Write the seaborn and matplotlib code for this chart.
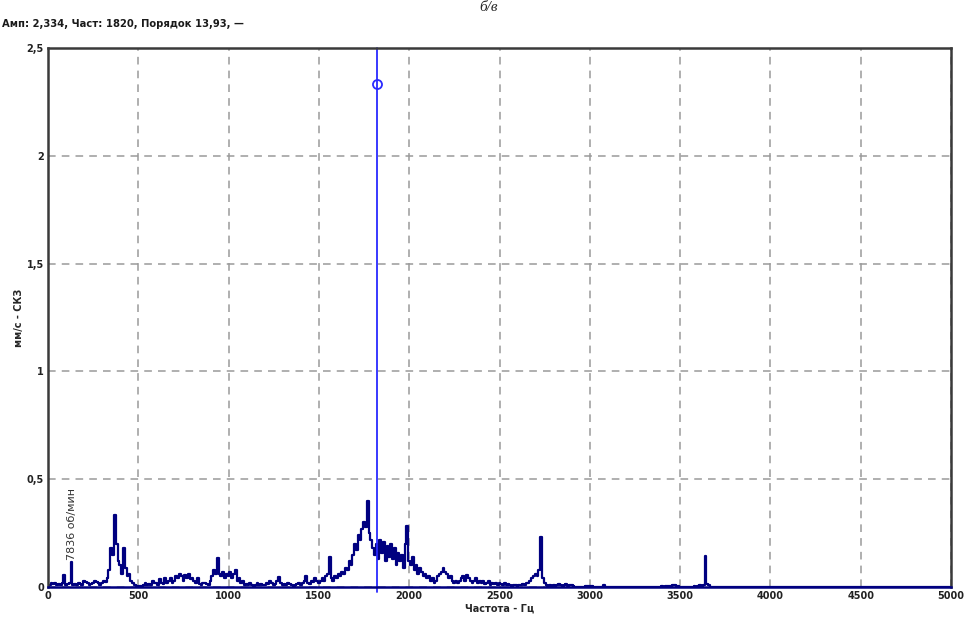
import numpy as np
import pandas as pd
import matplotlib
matplotlib.use("Agg")
import matplotlib.pyplot as plt
import seaborn as sns

# Спектр виброскорости, шаг 10 Гц (мм/с СКЗ)
amp_0_1000 = [
    0.0, 0.01, 0.02, 0.015, 0.02, 0.01, 0.015, 0.01, 0.02, 0.055,
    0.01, 0.015, 0.02, 0.117, 0.01, 0.015, 0.01, 0.02, 0.015, 0.01,
    0.03, 0.025, 0.02, 0.01, 0.015, 0.02, 0.03, 0.025, 0.02, 0.01,
    0.02, 0.03, 0.025, 0.04, 0.08, 0.18, 0.15, 0.334, 0.2, 0.12,
    0.1, 0.06, 0.18, 0.09, 0.05, 0.06, 0.03, 0.02, 0.01, 0.005,
    0.003, 0.005, 0.003, 0.008, 0.02, 0.01, 0.015, 0.01, 0.03, 0.02,
    0.02, 0.01, 0.035, 0.02, 0.015, 0.04, 0.02, 0.03, 0.04, 0.02,
    0.03, 0.05, 0.04, 0.06, 0.05, 0.03, 0.055, 0.04, 0.06, 0.035,
    0.04, 0.03, 0.02, 0.04, 0.015, 0.01, 0.02, 0.02, 0.015, 0.01,
    0.03, 0.05, 0.08, 0.06, 0.134, 0.06, 0.05, 0.07, 0.04, 0.06,
]
amp_1000_2000 = [
    0.05, 0.07, 0.04, 0.06, 0.08, 0.03, 0.04, 0.02, 0.03, 0.01,
    0.015, 0.01, 0.02, 0.01, 0.005, 0.01, 0.02, 0.01, 0.015, 0.01,
    0.01, 0.02, 0.015, 0.03, 0.02, 0.01, 0.015, 0.03, 0.045, 0.02,
    0.01, 0.015, 0.01, 0.02, 0.015, 0.01, 0.005, 0.01, 0.015, 0.02,
    0.01, 0.02, 0.03, 0.05, 0.02, 0.015, 0.03, 0.025, 0.04, 0.03,
    0.02, 0.03, 0.04, 0.03, 0.05, 0.06, 0.14, 0.04, 0.03, 0.05,
    0.04, 0.06, 0.05, 0.07, 0.06, 0.09, 0.08, 0.12, 0.1, 0.15,
    0.2, 0.17, 0.24, 0.22, 0.27, 0.3, 0.28, 0.40, 0.25, 0.22,
    0.18, 0.15, 0.2, 0.13, 0.22, 0.16, 0.21, 0.12, 0.19, 0.14,
    0.2, 0.13, 0.18, 0.1, 0.16, 0.12, 0.15, 0.09, 0.2, 0.283,
]
amp_2000_3000 = [
    0.12, 0.1, 0.14, 0.08, 0.1, 0.06, 0.09, 0.07, 0.05, 0.06,
    0.04, 0.05, 0.03, 0.04, 0.02, 0.03, 0.05, 0.06, 0.07, 0.088,
    0.07, 0.06, 0.04, 0.05, 0.03, 0.02, 0.03, 0.02, 0.03, 0.04,
    0.05, 0.03, 0.055, 0.04, 0.03, 0.02, 0.03, 0.04, 0.02, 0.03,
    0.02, 0.03, 0.015, 0.02, 0.03, 0.01, 0.02, 0.015, 0.02, 0.01,
    0.02, 0.015, 0.01, 0.02, 0.01, 0.015, 0.01, 0.005, 0.01, 0.01,
    0.005, 0.01, 0.01, 0.015, 0.01, 0.02, 0.02, 0.03, 0.04, 0.05,
    0.06, 0.05, 0.08, 0.233, 0.04, 0.02, 0.01, 0.005, 0.01, 0.005,
    0.01, 0.005, 0.01, 0.015, 0.01, 0.005, 0.01, 0.015, 0.005, 0.01,
    0.008, 0.003, 0.002, 0.001, 0.001, 0.001, 0.002, 0.001, 0.004, 0.006,
]
amp_3000_3700 = [
    0.005, 0.003, 0.001, 0.001, 0.002, 0.001, 0.001, 0.001, 0.008, 0.001,
    0.001, 0.0, 0.0, 0.0, 0.0, 0.0, 0.0, 0.0, 0.0, 0.0,
    0.0, 0.0, 0.0, 0.0, 0.0, 0.0, 0.0, 0.0, 0.0, 0.0,
    0.0, 0.0, 0.0, 0.0, 0.0, 0.0, 0.0, 0.0, 0.0, 0.0,
    0.006, 0.001, 0.006, 0.004, 0.005, 0.006, 0.007, 0.008, 0.006, 0.005,
    0.001, 0.0, 0.0, 0.0, 0.0, 0.0, 0.0, 0.0, 0.006, 0.002,
    0.005, 0.008, 0.006, 0.01, 0.144, 0.015, 0.008, 0.001, 0.0, 0.0,
]
amp_tail = [0.0]   # до 5000 Гц спектр на нуле
freq_tail = [5000]

cursor_freq = 1820
cursor_amp = 2.334
rpm_freq = 131
rpm_label = "7836 об/мин"
title = "Амп: 2,334, Част: 1820, Порядок 13,93, —"

x_ticks = [0, 500, 1000, 1500, 2000, 2500, 3000, 3500, 4000, 4500, 5000]
y_ticks = [0, 0.5, 1, 1.5, 2, 2.5]
y_labels = ["0", "0,5", "1", "1,5", "2", "2,5"]


def main():
    amp = amp_0_1000 + amp_1000_2000 + amp_2000_3000 + amp_3000_3700
    freq = list(np.arange(len(amp)) * 10) + freq_tail
    df = pd.DataFrame({"freq": freq, "amp": amp + amp_tail})

    sns.set_style("white")
    plt.rcParams["font.family"] = ["DejaVu Sans"]

    fig = plt.figure(figsize=(9.69, 6.26), dpi=100)
    ax = fig.add_axes([0.0495, 0.0623, 0.932, 0.861])

    ax.grid(True, color="#9a9a9a", linestyle=(0, (5, 4)), linewidth=1.1)
    ax.set_axisbelow(True)

    sns.lineplot(data=df, x="freq", y="amp", ax=ax, color="#000080",
                 linewidth=1.6, estimator=None, sort=True, drawstyle="steps-mid")

    # курсор
    ax.axvline(cursor_freq, color="#2a2aff", linewidth=1.3, ymin=-0.01, clip_on=False)
    ax.plot([cursor_freq], [cursor_amp], marker="o", markersize=6.5,
            markerfacecolor="none", markeredgecolor="#2a2aff", markeredgewidth=1.3)

    ax.text(rpm_freq, 0.125, rpm_label, rotation=90, ha="center", va="bottom",
            fontsize=8, color="#333333")

    ax.set_xlim(0, 5000)
    ax.set_ylim(0, 2.5)
    ax.set_xticks(x_ticks)
    ax.set_xticklabels([str(t) for t in x_ticks])
    ax.set_yticks(y_ticks)
    ax.set_yticklabels(y_labels)
    ax.tick_params(length=0, labelsize=7, pad=3)
    for lab in ax.get_xticklabels() + ax.get_yticklabels():
        lab.set_fontweight("bold")
        lab.set_color("#222222")

    ax.set_xlabel("Частота - Гц", fontsize=7, fontweight="bold", labelpad=2)
    ax.set_ylabel("мм/с - СКЗ", fontsize=7, fontweight="bold", labelpad=2)

    for side in ["left", "top", "right", "bottom"]:
        ax.spines[side].set_color("#3a3a3a")
        ax.spines[side].set_linewidth(1.8)
    ax.spines["bottom"].set_color("#000080")

    fig.text(0.002, 0.962, title, fontsize=7.2, fontweight="bold", color="#1a1a1a",
             ha="left", va="center")
    fig.text(0.504, 0.999, "б/в", fontsize=11, fontstyle="italic",
             family="Liberation Serif", ha="center", va="top")

    fig.savefig("out.png", dpi=100)


if __name__ == "__main__":
    main()
